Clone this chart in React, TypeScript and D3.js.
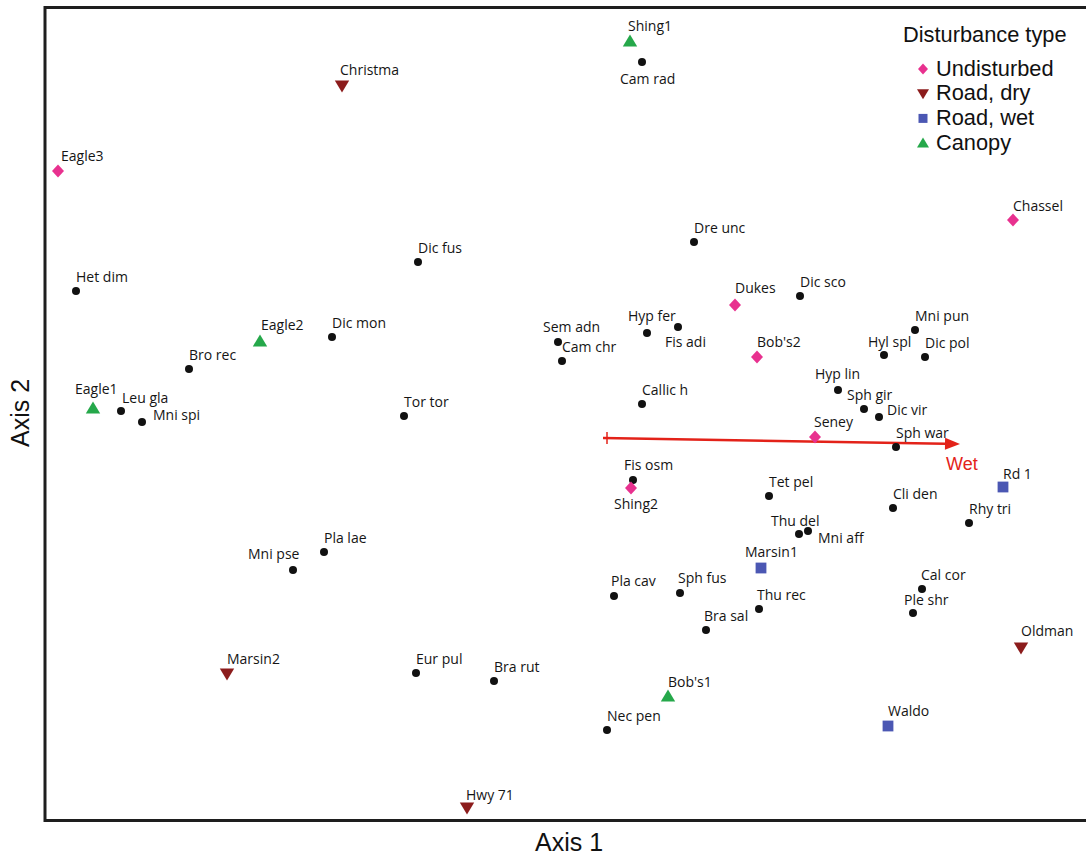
import React from 'react';
import * as d3 from 'd3';

// ordination scores (axis 1, axis 2)
const siteNames = ['Shing1', 'Christma', 'Eagle3', 'Chassel', 'Dukes', "Bob's2", 'Eagle2', 'Eagle1', 'Seney', 'Shing2', 'Rd 1', 'Marsin1', 'Marsin2', 'Oldman', "Bob's1", 'Waldo', 'Hwy 71'];
const siteType = ['Canopy', 'Road, dry', 'Undisturbed', 'Undisturbed', 'Undisturbed', 'Undisturbed', 'Canopy', 'Canopy', 'Undisturbed', 'Undisturbed', 'Road, wet', 'Road, wet', 'Road, dry', 'Road, dry', 'Canopy', 'Road, wet', 'Road, dry'];
const siteAxis1 = [0.65, -2.23, -5.07, 4.48, 1.70, 1.92, -3.05, -4.72, 2.50, 0.66, 4.38, 1.96, -3.38, 4.56, 1.03, 3.23, -0.98];
const siteAxis2 = [3.73, 3.28, 2.43, 1.94, 1.09, 0.57, 0.73, 0.06, -0.23, -0.74, -0.73, -1.54, -2.60, -2.34, -2.82, -3.12, -3.94];

const speciesNames = ['Cam rad', 'Dre unc', 'Dic sco', 'Dic fus', 'Het dim', 'Dic mon', 'Bro rec', 'Leu gla', 'Mni spi', 'Tor tor', 'Sem adn', 'Cam chr', 'Hyp fer', 'Fis adi', 'Mni pun', 'Hyl spl', 'Dic pol', 'Callic h', 'Hyp lin', 'Sph gir', 'Dic vir', 'Sph war', 'Fis osm', 'Tet pel', 'Cli den', 'Rhy tri', 'Thu del', 'Mni aff', 'Pla lae', 'Mni pse', 'Pla cav', 'Sph fus', 'Thu rec', 'Bra sal', 'Cal cor', 'Ple shr', 'Eur pul', 'Bra rut', 'Nec pen'];
const speciesAxis1 = [0.77, 1.29, 2.35, -1.47, -4.89, -2.33, -3.76, -4.44, -4.23, -1.61, -0.07, -0.03, 0.82, 1.13, 3.50, 3.19, 3.60, 0.77, 2.73, 2.99, 3.14, 3.31, 0.68, 2.04, 3.28, 4.04, 2.34, 2.43, -2.41, -2.72, 0.49, 1.15, 1.94, 1.41, 3.57, 3.48, -1.49, -0.71, 0.42];
const speciesAxis2 = [3.52, 1.72, 1.18, 1.52, 1.23, 0.77, 0.45, 0.03, -0.08, -0.02, 0.72, 0.53, 0.81, 0.87, 0.84, 0.59, 0.57, 0.10, 0.24, 0.05, -0.03, -0.33, -0.66, -0.82, -0.94, -1.09, -1.20, -1.17, -1.38, -1.56, -1.82, -1.79, -1.95, -2.16, -1.75, -1.99, -2.59, -2.67, -3.16];

// environmental vector
const vectorName = 'Wet';
const vectorStart = [0.42, -0.24];
const vectorEnd = [3.95, -0.30];

const legendTitle = 'Disturbance type';
const disturbanceTypes = ['Undisturbed', 'Road, dry', 'Road, wet', 'Canopy'];

// label placement relative to the marker (px)
const siteLabelOffsets: Record<string, [number, number]> = {
  Shing1: [-2, -14], Christma: [-2, -15], Eagle3: [3, -14], Chassel: [0, -13], Dukes: [0, -16],
  "Bob's2": [0, -14], Eagle2: [1, -15], Eagle1: [-18, -18], Seney: [-1, -14], Shing2: [-17, 17],
  'Rd 1': [0, -12], Marsin1: [-16, -15], Marsin2: [0, -14], Oldman: [0, -16], "Bob's1": [0, -13],
  Waldo: [0, -14], 'Hwy 71': [-1, -12],
};
const speciesLabelOffsets: Record<string, [number, number]> = {
  'Cam rad': [-22, 18], 'Sem adn': [-15, -14], 'Hyp fer': [-19, -16], 'Fis adi': [-13, 16],
  'Hyl spl': [-16, -12], 'Hyp lin': [-23, -15], 'Sph gir': [-17, -13], 'Dic vir': [8, -6],
  'Fis osm': [-9, -14], 'Thu del': [-28, -12], 'Mni aff': [10, 8], 'Mni pse': [-45, -15],
  'Mni spi': [11, -6], 'Leu gla': [1, -12], 'Pla cav': [-3, -14], 'Sph fus': [-2, -14],
  'Thu rec': [-2, -13], 'Bra sal': [-2, -13], 'Ple shr': [-9, -12], 'Cal cor': [-1, -13],
};

const typeColor: Record<string, string> = {
  Undisturbed: '#e8318f',
  'Road, dry': '#8c1c1c',
  'Road, wet': '#4b57b3',
  Canopy: '#25a84a',
};

function markerPath(type: string, size: number) {
  const s = size;
  if (type === 'Undisturbed') return `M0,${-s * 0.55}L${s * 0.5},0L0,${s * 0.55}L${-s * 0.5},0Z`;
  if (type === 'Road, dry') return `M${-s * 0.6},${-s * 0.45}L${s * 0.6},${-s * 0.45}L0,${s * 0.55}Z`;
  if (type === 'Road, wet') return `M${-s * 0.45},${-s * 0.45}h${s * 0.9}v${s * 0.9}h${-s * 0.9}Z`;
  return `M0,${-s * 0.55}L${s * 0.6},${s * 0.45}L${-s * 0.6},${s * 0.45}Z`;
}

const W = 1086;
const H = 859;

export default function App() {
  const x = d3.scaleLinear().domain([-5.2, 5.2]).range([45, 1085]);
  const y = d3.scaleLinear().domain([-4.06, 4.06]).range([820, 8]);
  const labelFont = "'Open Sans', 'DejaVu Sans', sans-serif";
  const sansFont = "'Liberation Sans', Arial, sans-serif";

  const vx0 = x(vectorStart[0]);
  const vy0 = y(vectorStart[1]);
  const vx1 = x(vectorEnd[0]);
  const vy1 = y(vectorEnd[1]);
  const ang = Math.atan2(vy1 - vy0, vx1 - vx0);
  const headLen = 15;
  const headW = 6;
  const bx = vx1 - headLen * Math.cos(ang);
  const by = vy1 - headLen * Math.sin(ang);
  const head = `M${vx1},${vy1}L${bx - headW * Math.sin(ang)},${by + headW * Math.cos(ang)}L${bx + headW * Math.sin(ang)},${by - headW * Math.cos(ang)}Z`;

  return (
    <svg width={W} height={H} style={{ position: 'absolute', left: 0, top: 0, background: '#fff' }}>
      <rect x={45} y={7.5} width={1070} height={813} fill="none" stroke="#1e1e1e" strokeWidth={3} />

      {/* wet vector */}
      <g stroke="#e32219" fill="#e32219">
        <line x1={vx0 - 4} y1={vy0} x2={bx} y2={by} strokeWidth={2.5} />
        <line x1={vx0} y1={vy0 - 6} x2={vx0} y2={vy0 + 6} strokeWidth={1.5} />
        <path d={head} stroke="none" />
      </g>
      <text x={vx1 - 14} y={vy1 + 21} fontFamily={sansFont} fontSize={18} fill="#e32219" dominantBaseline="middle">
        {vectorName}
      </text>

      {/* species */}
      {speciesNames.map((name, i) => {
        const cx = x(speciesAxis1[i]);
        const cy = y(speciesAxis2[i]);
        const off = speciesLabelOffsets[name] || [0, -13];
        return (
          <g key={name}>
            <circle cx={cx} cy={cy} r={4} fill="#111" />
            <text x={cx + off[0]} y={cy + off[1]} fontFamily={labelFont} fontSize={14} fill="#151515" dominantBaseline="middle">
              {name}
            </text>
          </g>
        );
      })}

      {/* sites */}
      {siteNames.map((name, i) => {
        const cx = x(siteAxis1[i]);
        const cy = y(siteAxis2[i]);
        const off = siteLabelOffsets[name] || [0, -14];
        return (
          <g key={name}>
            <path d={markerPath(siteType[i], 12)} transform={`translate(${cx},${cy})`} fill={typeColor[siteType[i]]} />
            <text x={cx + off[0]} y={cy + off[1]} fontFamily={labelFont} fontSize={14} fill="#151515" dominantBaseline="middle">
              {name}
            </text>
          </g>
        );
      })}

      {/* legend */}
      <g fontFamily={sansFont}>
        <text x={903} y={36} fontSize={21.8} fill="#111" dominantBaseline="middle">{legendTitle}</text>
        {disturbanceTypes.map((t, i) => (
          <g key={t} transform={`translate(0,${69 + i * 24.7})`}>
            <path d={markerPath(t, 10)} transform="translate(923,0)" fill={typeColor[t]} />
            <text x={936} y={1} fontSize={21.8} fill="#111" dominantBaseline="middle">{t}</text>
          </g>
        ))}
      </g>

      {/* axis titles */}
      <text x={569} y={844} fontFamily={sansFont} fontSize={25} fill="#111" textAnchor="middle" dominantBaseline="middle">
        Axis 1
      </text>
      <text transform="translate(22,413) rotate(-90)" fontFamily={sansFont} fontSize={25} fill="#111" textAnchor="middle" dominantBaseline="middle">
        Axis 2
      </text>
    </svg>
  );
}
